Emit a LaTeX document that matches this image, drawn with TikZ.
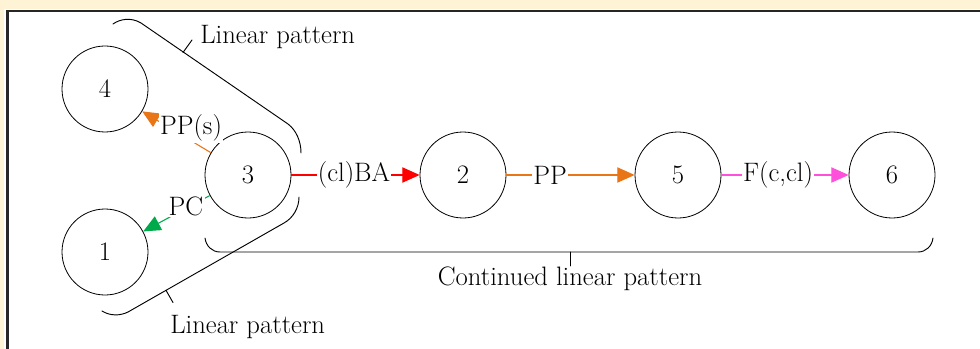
\documentclass[tikz,border=0pt]{standalone}
\usepackage{tikz}
\usetikzlibrary{arrows.meta}

\definecolor{creambg}{RGB}{255,243,214}
\definecolor{ppcol}{RGB}{232,118,22}
\definecolor{pccol}{RGB}{0,170,75}
\definecolor{bacol}{RGB}{255,0,0}
\definecolor{fcol}{RGB}{255,80,220}

\tikzset{
  state/.style={draw, circle, minimum size=64.5pt, inner sep=0pt, line width=0.6pt},
  trans/.style={line width=0.8pt, -{Triangle[length=13pt,width=11.5pt]}},
  elabel/.style={fill=white, inner sep=1pt},
  grp/.style={line width=0.7pt, line cap=round},
  grptext/.style={inner sep=0.75pt},
}

\begin{document}
\begin{tikzpicture}[x=0.75pt,y=0.75pt,yscale=-1,xscale=1,font=\fontsize{20}{23}\selectfont]
\useasboundingbox (0,0) rectangle (980,349);
\clip (0,0) rectangle (980,349);

%Shape: Rectangle [frame]
\fill[creambg] (0,0) rectangle (980,349);
\fill[white] (4,9) rectangle (990,360);
\draw[black!85, line width=1.8pt] (7.3,11.3) rectangle (995,365);

%Shape: Circle [states]
\node[state] (n4) at (105,89) {4};
\node[state] (n1) at (105,252) {1};
\node[state] (n3) at (248,175) {3};
\node[state] (n2) at (463,175) {2};
\node[state] (n5) at (678,175) {5};
\node[state] (n6) at (892,175) {6};

%Straight Lines [transitions]
\draw[trans, bacol] (n3) -- (n2);
\draw[trans, ppcol] (n2) -- (n5);
\draw[trans, fcol] (n5) -- (n6);
\draw[trans, ppcol] (n3) -- (n4);
\draw[trans, pccol] (n3) -- (n1);

% Text Node
\node[elabel] (lba) at (354,175) {(cl)BA};
% Text Node
\node[elabel] (lpp) at (550,175) {PP};
% Text Node
\node[elabel] (lf) at (778,175) {F(c,cl)};
% Text Node
\node[elabel] (lpps) at (191,128) {PP(s)};
% Text Node
\node[elabel] (lpc) at (186,206) {PC};

%Curve Lines [upper group]
\draw[grp] (113,24) .. controls (120,19) and (131,17) .. (141,23) -- (288,124) .. controls (296,130) and (301,141) .. (301,153);
\draw[grp] (183,52.5) -- (192,40);
%Curve Lines [lower group]
\draw[grp] (102,311) .. controls (110,316) and (120,316) .. (128,312) -- (284,223) .. controls (293,218) and (299,208) .. (299,197);
\draw[grp] (166,290.3) -- (173,302.5);
%Curve Lines [continued group]
\draw[grp] (205,238) .. controls (206,246) and (212,252) .. (220,252) -- (918,252) .. controls (926,252) and (932,246) .. (933,238);

% Text Node
\node[grptext, anchor=west] (lin1) at (199,37) {Linear pattern};
% Text Node
\node[grptext, anchor=west] (lin2) at (169,327) {Linear pattern};
% Text Node
\node[grptext, anchor=north] (clin) at (570,266) {Continued linear pattern};
\draw[grp] (570,252) -- (clin.north);
\end{tikzpicture}
\end{document}
